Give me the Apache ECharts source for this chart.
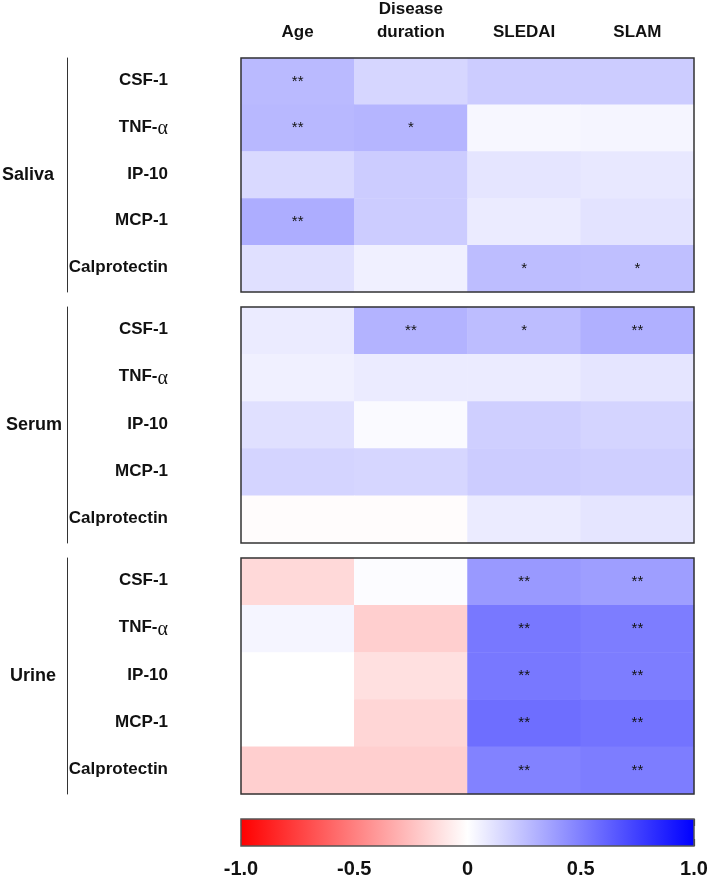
<!DOCTYPE html>
<html>
<head>
<meta charset="utf-8">
<script src="https://cdn.jsdelivr.net/npm/echarts@6/dist/echarts.min.js"></script>
<style>html,body{margin:0;padding:0;background:#fff}#c{width:708px;height:885px}</style>
</head>
<body>
<div id="c"></div>
<script>
const columns = ['Age', 'Disease\nduration', 'SLEDAI', 'SLAM'];
const markers = ['CSF-1', 'TNF-α', 'IP-10', 'MCP-1', 'Calprotectin'];
const groups = ['Saliva', 'Serum', 'Urine'];

// rows = markers, cols = columns
const salivaValues = [
  [0.27, 0.16, 0.20, 0.20],
  [0.28, 0.29, 0.03, 0.04],
  [0.15, 0.20, 0.10, 0.09],
  [0.32, 0.20, 0.08, 0.11],
  [0.12, 0.06, 0.26, 0.25]
];
const salivaStars = [
  ['**', '', '', ''],
  ['**', '*', '', ''],
  ['', '', '', ''],
  ['**', '', '', ''],
  ['', '', '*', '*']
];
const serumValues = [
  [0.08, 0.30, 0.26, 0.31],
  [0.06, 0.08, 0.08, 0.10],
  [0.12, 0.02, 0.19, 0.17],
  [0.17, 0.16, 0.20, 0.19],
  [-0.01, -0.01, 0.08, 0.10]
];
const serumStars = [
  ['', '**', '*', '**'],
  ['', '', '', ''],
  ['', '', '', ''],
  ['', '', '', ''],
  ['', '', '', '']
];
const urineValues = [
  [-0.15, 0.01, 0.40, 0.38],
  [0.04, -0.19, 0.53, 0.51],
  [0.00, -0.12, 0.53, 0.51],
  [0.00, -0.16, 0.57, 0.55],
  [-0.19, -0.19, 0.49, 0.51]
];
const urineStars = [
  ['', '', '**', '**'],
  ['', '', '**', '**'],
  ['', '', '**', '**'],
  ['', '', '**', '**'],
  ['', '', '**', '**']
];
const colorbarTicks = [-1.0, -0.5, 0, 0.5, 1.0];

const FONT = '"Liberation Sans", Arial, sans-serif';
const panelValues = [salivaValues, serumValues, urineValues];
const panelStars = [salivaStars, serumStars, urineStars];
const gridTops = [58, 307, 558];
const gridHeights = [234, 236, 236];
const groupNameGaps = [39, 33, 34];

function buildData(vals, stars) {
  const out = [];
  for (let r = 0; r < vals.length; r++) {
    for (let c = 0; c < vals[r].length; c++) {
      out.push([c, r, vals[r][c], stars[r][c]]);
    }
  }
  return out;
}

const grids = [], xAxes = [], yAxes = [], series = [];
for (let g = 0; g < 3; g++) {
  grids.push({left: 241, width: 453, top: gridTops[g], height: gridHeights[g],
    outerBoundsMode: 'none', containLabel: false,
    show: true, z: 10, backgroundColor: 'transparent', borderColor: '#333', borderWidth: 1.5});
  xAxes.push({type: 'category', gridIndex: g, data: columns, position: 'top',
    axisLine: {show: false}, axisTick: {show: false}, splitLine: {show: false},
    axisLabel: {show: g === 0, margin: 14, fontFamily: FONT, fontWeight: 'bold', fontSize: 17,
      color: '#111', lineHeight: 23}});
  yAxes.push({type: 'category', gridIndex: g, data: markers, inverse: true,
    axisLine: {show: false}, axisTick: {show: false}, splitLine: {show: false},
    axisLabel: {margin: 73, fontFamily: FONT, fontWeight: 'bold', fontSize: 16, color: '#111',
      formatter: function (v) {
        if (v.indexOf('α') >= 0) return '{a|' + v.replace('α', '') + '}{g|α}';
        return '{a|' + v + '}';
      },
      rich: {
        a: {fontFamily: FONT, fontWeight: 'bold', fontSize: 17, color: '#111', padding: [0, 0, 2, 0]},
        g: {fontFamily: '"Liberation Serif", "DejaVu Serif", serif', fontWeight: 'normal', fontSize: 20, color: '#111', padding: [2, 0, 0, 0]}
      }}});
  yAxes.push({type: 'category', gridIndex: g, data: markers, inverse: true, position: 'left', offset: 174,
    axisLine: {show: true, lineStyle: {color: '#333', width: 1}}, axisTick: {show: false},
    axisLabel: {show: false}, splitLine: {show: false},
    name: groups[g], nameLocation: 'middle', nameRotate: 0, nameGap: groupNameGaps[g],
    nameTextStyle: {fontFamily: FONT, fontWeight: 'bold', fontSize: 18, color: '#111', align: 'center'}});
  series.push({type: 'heatmap', xAxisIndex: g, yAxisIndex: g * 2,
    data: buildData(panelValues[g], panelStars[g]),
    label: {show: true, formatter: p => p.data[3], fontFamily: FONT,
      fontSize: 15, color: '#111', padding: [5, 0, 0, 0]},
    emphasis: {disabled: true}});
}

// colorbar grid
grids.push({left: 241, width: 453, top: 819, height: 27, show: true, z: 10,
  outerBoundsMode: 'none', containLabel: false,
  backgroundColor: 'transparent', borderColor: '#555', borderWidth: 1.5});
xAxes.push({type: 'value', gridIndex: 3, min: -1, max: 1, interval: 0.5, position: 'bottom',
  axisLine: {show: false}, splitLine: {show: false},
  axisTick: {show: true, inside: true, length: 7, lineStyle: {color: '#333', width: 1.2}},
  axisLabel: {margin: 13, fontFamily: FONT, fontWeight: 'bold', fontSize: 20, color: '#111',
    formatter: v => (v === 0 ? '0' : v.toFixed(1)), customValues: colorbarTicks}});
xAxes.push({type: 'value', gridIndex: 3, min: -1, max: 1, interval: 0.5, position: 'top',
  axisLine: {show: false}, splitLine: {show: false}, axisLabel: {show: false},
  axisTick: {show: true, inside: true, length: 7, lineStyle: {color: '#333', width: 1.2}}});
yAxes.push({type: 'value', gridIndex: 3, min: 0, max: 1, show: false});

// colorbar drawn as a gradient area spanning the value axis
series.push({type: 'line', xAxisIndex: 3, yAxisIndex: 6, silent: true, symbol: 'none',
  data: [[-1, 1], [1, 1]], lineStyle: {width: 0},
  areaStyle: {opacity: 1, color: new echarts.graphic.LinearGradient(0, 0, 1, 0, [
    {offset: 0, color: '#ff0000'}, {offset: 0.5, color: '#ffffff'}, {offset: 1, color: '#0000ff'}])}});

const chart = echarts.init(document.getElementById('c'), null, {renderer: 'canvas'});
chart.setOption({
  animation: false,
  backgroundColor: '#fff',
  grid: grids, xAxis: xAxes, yAxis: yAxes,
  visualMap: {type: 'continuous', show: false, min: -1, max: 1, dimension: 2, seriesIndex: [0, 1, 2],
    inRange: {color: ['#ff0000', '#ffffff', '#0000ff']}},
  series: series
});
</script>
</body>
</html>
